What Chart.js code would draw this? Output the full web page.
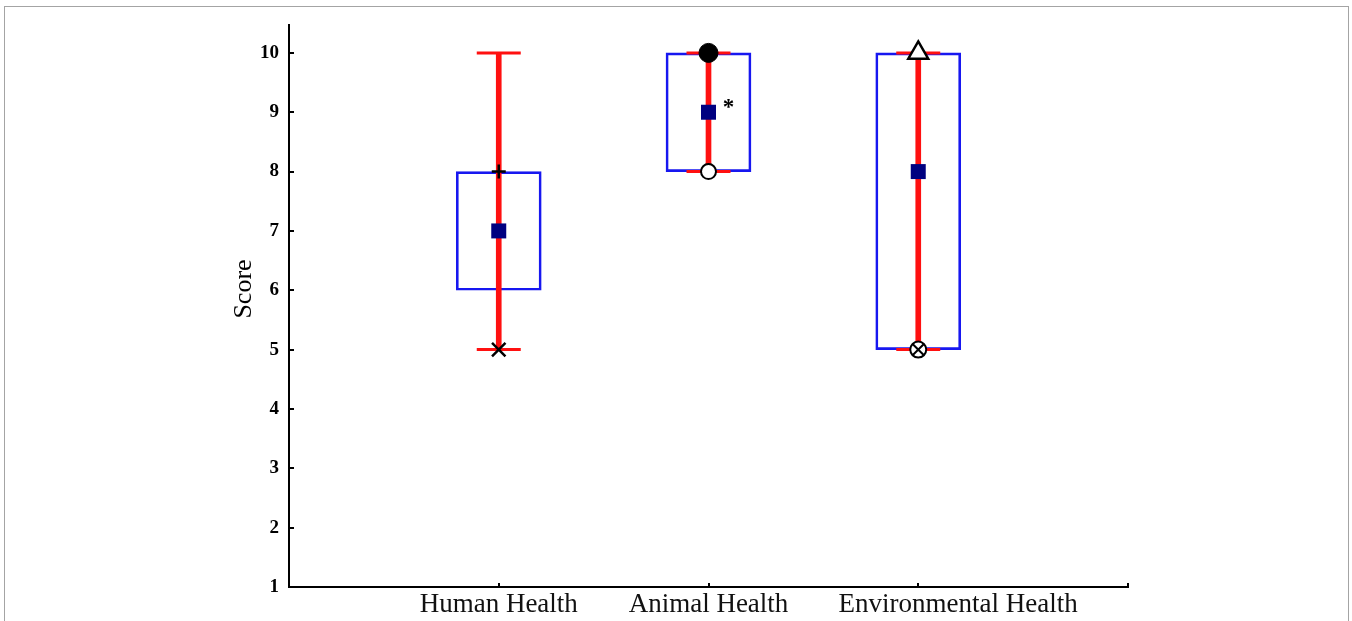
<!DOCTYPE html>
<html lang="en">
<head>
    <meta charset="UTF-8">
    <title>Score by health domain</title>
    <script src="https://cdn.jsdelivr.net/npm/chart.js@4.4.0/dist/chart.umd.min.js"></script>
    <style>
        * {
            margin: 0;
            padding: 0;
            box-sizing: border-box;
        }

        body {
            background: #fff;
            width: 1352px;
            height: 621px;
            overflow: hidden;
            position: relative;
        }

        .chart-box {
            position: absolute;
            left: 0;
            top: 0;
            width: 1352px;
            height: 621px;
        }

        .frame {
            position: absolute;
            left: 4px;
            top: 6px;
            width: 1345px;
            height: 700px;
            border: 1px solid #a4a4a4;
            pointer-events: none;
        }
    </style>
</head>
<body>
    <div class="chart-box">
        <canvas id="scoreChart"></canvas>
    </div>
    <div class="frame"></div>

    <script>
        // data
        const categories = ['Human Health', 'Animal Health', 'Environmental Health'];
        const boxLow = [6, 8, 5];
        const boxHigh = [8, 10, 10];
        const whiskerLow = [5, 8, 5];
        const whiskerHigh = [10, 10, 10];
        const meanValues = [7, 9, 8];
        const plusMarks = [8, null, null];
        const crossMarks = [5, null, null];
        const filledCircleMarks = [null, 10, null];
        const openCircleMarks = [null, 8, null];
        const triangleMarks = [null, null, 10];
        const circleCrossMarks = [null, null, 5];
        const significance = ['', '*', ''];
        const yTicks = [1, 2, 3, 4, 5, 6, 7, 8, 9, 10];

        const serif = "'Liberation Serif', 'Times New Roman', serif";
        const toPoints = arr => arr.map((v, i) => ({ x: i + 1, y: v }));
        // the last category label sits a little right of its tick in the original
        const labelShift = [0, 0, 0.19];

        function marker(data, style, radius, fill, width, order) {
            return {
                type: 'scatter',
                data: toPoints(data),
                pointStyle: style,
                pointRadius: radius,
                pointHoverRadius: radius,
                pointBackgroundColor: fill,
                pointBorderColor: '#000',
                pointBorderWidth: width,
                order: order
            };
        }

        // inward ticks, y title and the significance mark
        const extras = {
            id: 'extras',
            beforeDatasetsDraw(chart) {
                const { ctx, chartArea, scales: { x, y } } = chart;
                ctx.save();
                ctx.strokeStyle = '#000';
                ctx.lineWidth = 2;
                ctx.beginPath();
                yTicks.forEach(v => {
                    const py = Math.round(y.getPixelForValue(v));
                    ctx.moveTo(chartArea.left, py);
                    ctx.lineTo(chartArea.left + 5, py);
                });
                [1, 2, 3, 4].forEach(v => {
                    const px = Math.round(x.getPixelForValue(v));
                    ctx.moveTo(px, chartArea.bottom);
                    ctx.lineTo(px, chartArea.bottom - 4);
                });
                ctx.stroke();

                ctx.fillStyle = '#000';
                ctx.font = '26px ' + serif;
                ctx.textAlign = 'center';
                ctx.textBaseline = 'alphabetic';
                ctx.translate(chartArea.left - 38, (chartArea.top + chartArea.bottom) / 2 - 17);
                ctx.rotate(-Math.PI / 2);
                ctx.fillText('Score', 0, 0);
                ctx.restore();
            },
            afterDatasetsDraw(chart) {
                const { ctx, scales: { x, y } } = chart;
                ctx.save();
                ctx.fillStyle = '#000';
                ctx.font = 'bold 23px ' + serif;
                ctx.textAlign = 'center';
                ctx.textBaseline = 'alphabetic';
                significance.forEach((s, i) => {
                    if (!s) return;
                    ctx.fillText(s, x.getPixelForValue(i + 1) + 20, y.getPixelForValue(meanValues[i]) + 2);
                });
                ctx.restore();
            }
        };

        new Chart(document.getElementById('scoreChart'), {
            type: 'bar',
            data: {
                datasets: [
                    {
                        data: categories.map((c, i) => ({ x: i + 1, y: [boxLow[i], boxHigh[i]] })),
                        backgroundColor: 'rgba(0,0,0,0)',
                        borderColor: '#1717f0',
                        borderWidth: 2,
                        borderSkipped: false,
                        barThickness: 85,
                        grouped: false,
                        order: 10
                    },
                    {
                        data: categories.map((c, i) => ({ x: i + 1, y: [whiskerLow[i], whiskerHigh[i]] })),
                        backgroundColor: '#ff1010',
                        borderWidth: 0,
                        barThickness: 5,
                        grouped: false,
                        order: 9
                    },
                    {
                        type: 'scatter',
                        data: toPoints(whiskerLow).concat(toPoints(whiskerHigh)),
                        pointStyle: 'line',
                        pointRadius: 22,
                        pointHoverRadius: 22,
                        pointBorderColor: '#ff1010',
                        pointBorderWidth: 3,
                        order: 8
                    },
                    {
                        type: 'scatter',
                        data: toPoints(meanValues),
                        pointStyle: 'rect',
                        pointRadius: 10.6,
                        pointHoverRadius: 10.6,
                        pointBackgroundColor: '#000080',
                        pointBorderColor: '#000080',
                        pointBorderWidth: 0,
                        order: 7
                    },
                    marker(plusMarks, 'cross', 7, '#000', 2.5, 6),
                    marker(crossMarks, 'crossRot', 9.5, '#000', 2.5, 6),
                    marker(filledCircleMarks, 'circle', 9.5, '#000', 1, 6),
                    marker(openCircleMarks, 'circle', 7.5, '#fff', 2, 6),
                    marker(triangleMarks, 'triangle', 11.5, '#fff', 2.5, 6),
                    marker(circleCrossMarks, 'circle', 8, '#fff', 2, 6),
                    marker(circleCrossMarks, 'crossRot', 8, '#000', 2, 5)
                ]
            },
            options: {
                responsive: true,
                maintainAspectRatio: false,
                animation: false,
                layout: {
                    padding: { left: 0, top: 24, right: 224, bottom: 0 }
                },
                plugins: {
                    legend: { display: false },
                    tooltip: { enabled: false }
                },
                scales: {
                    x: {
                        type: 'linear',
                        min: 0,
                        max: 4,
                        offset: false,
                        afterBuildTicks: s => {
                            s.ticks = categories.map((c, i) => ({ value: i + 1 + labelShift[i] }));
                        },
                        afterFit: s => { s.height = 34; },
                        ticks: {
                            autoSkip: false,
                            maxRotation: 0,
                            minRotation: 0,
                            padding: 2,
                            color: '#111',
                            font: { family: serif, size: 27 },
                            callback: v => categories[Math.round(v) - 1] || ''
                        },
                        grid: { display: false, drawTicks: false, offset: false },
                        border: { display: true, color: '#000', width: 2 }
                    },
                    y: {
                        min: 1,
                        max: 10.47,
                        afterBuildTicks: s => { s.ticks = yTicks.map(v => ({ value: v })); },
                        afterFit: s => { s.width = 289; },
                        ticks: {
                            padding: 10,
                            color: '#000',
                            font: { family: serif, size: 19, weight: 'bold' }
                        },
                        grid: { display: false, drawTicks: false },
                        border: { display: true, color: '#000', width: 2 }
                    }
                }
            },
            plugins: [extras]
        });
    </script>
</body>
</html>
